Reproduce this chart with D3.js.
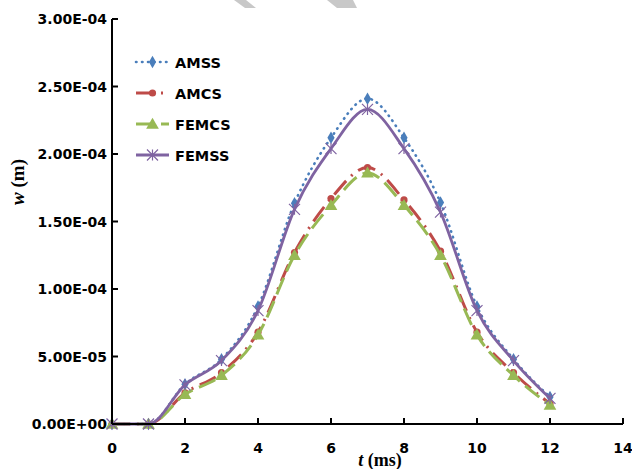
<!DOCTYPE html>
<html><head><meta charset="utf-8">
<script src="https://cdn.jsdelivr.net/npm/d3@7"></script>
<style>html,body{margin:0;padding:0;background:#fff;overflow:hidden}</style>
</head><body>
<svg id="chart" width="632" height="469"></svg>
<script>
const times = [0,1,2,3,4,5,6,7,8,9,10,11,12];
const AMSS  = [0,0,2.95e-5,4.8e-5,8.7e-5,16.35e-5,21.2e-5,24.1e-5,21.2e-5,16.4e-5,8.7e-5,4.8e-5,2.0e-5];
const AMCS  = [0,0,2.3e-5,3.8e-5,6.8e-5,12.7e-5,16.7e-5,19.0e-5,16.6e-5,12.8e-5,6.8e-5,3.8e-5,1.5e-5];
const FEMCS = [0,0,2.2e-5,3.6e-5,6.6e-5,12.5e-5,16.2e-5,18.6e-5,16.2e-5,12.5e-5,6.6e-5,3.6e-5,1.4e-5];
const FEMSS = [0,0,2.9e-5,4.7e-5,8.4e-5,15.9e-5,20.4e-5,23.3e-5,20.4e-5,15.7e-5,8.4e-5,4.7e-5,1.9e-5];
const seriesNames = ["AMSS","AMCS","FEMCS","FEMSS"];
const xTicks = [0,2,4,6,8,10,12,14];
const yTicks = [0,5e-5,1e-4,1.5e-4,2e-4,2.5e-4,3e-4];
const yTickLabels = ["0.00E+00","5.00E-05","1.00E-04","1.50E-04","2.00E-04","2.50E-04","3.00E-04"];

const svg = d3.select("#chart");
const x = d3.scaleLinear().domain([0,14]).range([112,623]);
const y = d3.scaleLinear().domain([0,3e-4]).range([424,19]);

// watermark fragments
svg.append("polygon").attr("points","234,0 246,0 256,8 245,8").attr("fill","#c8c8c8");
svg.append("polygon").attr("points","327,0 353,0 357,8 337,8").attr("fill","#c8c8c8");

const styles = {
  AMSS:  {data:AMSS,  color:"#4A7EBB", dash:"0.5 5.5", cap:"round", w:2.6, marker:"diamond"},
  AMCS:  {data:AMCS,  color:"#BE4B48", dash:"18 7 2 7", cap:"butt", w:3, marker:"circle"},
  FEMCS: {data:FEMCS, color:"#98B954", dash:"18 7", cap:"butt", w:3, marker:"triangle"},
  FEMSS: {data:FEMSS, color:"#7F63A1", dash:null, cap:"butt", w:2.8, marker:"star"}
};

const line = d3.line().x(d=>x(d[0])).y(d=>y(d[1])).curve(d3.curveMonotoneX);

function drawMarker(g, type, cx, cy, color){
  if(type==="diamond"){
    g.append("path").attr("d", d3.symbol(d3.symbolDiamond, 45)()).attr("transform",`translate(${cx},${cy})`).attr("fill",color);
  } else if(type==="circle"){
    g.append("circle").attr("cx",cx).attr("cy",cy).attr("r",3.6).attr("fill",color);
  } else if(type==="triangle"){
    g.append("path").attr("d", d3.symbol(d3.symbolTriangle, 70)()).attr("transform",`translate(${cx},${cy+1})`).attr("fill",color);
  } else if(type==="star"){
    const r=5.5;
    const p = `M${-r},${-r}L${r},${r}M${-r},${r}L${r},${-r}M0,${-r}L0,${r}`;
    g.append("path").attr("d",p).attr("transform",`translate(${cx},${cy})`).attr("stroke",color).attr("stroke-width",1.2).attr("fill","none");
  }
}

const plot = svg.append("g");
seriesNames.forEach(name=>{
  const s = styles[name];
  const pts = times.map((t,i)=>[t, s.data[i]]);
  plot.append("path").attr("d", line(pts)).attr("fill","none").attr("stroke",s.color)
    .attr("stroke-width",s.w).attr("stroke-dasharray",s.dash).attr("stroke-linecap",s.cap);
  const mg = plot.append("g");
  pts.forEach(p=>drawMarker(mg, s.marker, x(p[0]), y(p[1]), s.color));
});

// axes
const ax = svg.append("g");
ax.append("line").attr("x1",x(0)).attr("x2",x(14)).attr("y1",y(0)).attr("y2",y(0)).attr("stroke","#000").attr("stroke-width",2);
ax.append("line").attr("x1",x(0)).attr("x2",x(0)).attr("y1",y(0)).attr("y2",y(3e-4)).attr("stroke","#000").attr("stroke-width",2);
xTicks.forEach(t=>{
  ax.append("line").attr("x1",x(t)).attr("x2",x(t)).attr("y1",y(0)).attr("y2",y(0)-6).attr("stroke","#000").attr("stroke-width",2);
  ax.append("text").attr("x",x(t)).attr("y",453).attr("text-anchor","middle")
    .style("font-family","DejaVu Sans").style("font-weight","bold").style("font-size","14px").text(t);
});
yTicks.forEach((v,i)=>{
  ax.append("line").attr("x1",x(0)).attr("x2",x(0)+6).attr("y1",y(v)).attr("y2",y(v)).attr("stroke","#000").attr("stroke-width",2);
  ax.append("text").attr("x",107).attr("y",y(v)+5).attr("text-anchor","end")
    .style("font-family","DejaVu Sans").style("font-weight","bold").style("font-size","14px").text(yTickLabels[i]);
});

// axis titles
const yt = svg.append("text").attr("transform","translate(24,182) rotate(-90)").attr("text-anchor","middle")
  .style("font-family","Liberation Serif").style("font-weight","bold").style("font-size","19px");
yt.append("tspan").style("font-style","italic").text("w");
yt.append("tspan").text(" (m)");
const xt = svg.append("text").attr("x",380).attr("y",466).attr("text-anchor","middle")
  .style("font-family","Liberation Serif").style("font-weight","bold").style("font-size","18px");
xt.append("tspan").style("font-style","italic").text("t");
xt.append("tspan").text(" (ms)");

// legend
const legY = [62,93,124,155];
seriesNames.forEach((name,i)=>{
  const s = styles[name];
  const g = svg.append("g");
  g.append("line").attr("x1",136).attr("x2",169).attr("y1",legY[i]).attr("y2",legY[i])
    .attr("stroke",s.color).attr("stroke-width",s.w).attr("stroke-dasharray",s.dash).attr("stroke-linecap",s.cap);
  drawMarker(g, s.marker, 152.5, legY[i], s.color);
  g.append("text").attr("x",175).attr("y",legY[i]+5.5)
    .style("font-family","DejaVu Sans").style("font-weight","bold").style("font-size","14.5px").text(name);
});
</script>
</body></html>
